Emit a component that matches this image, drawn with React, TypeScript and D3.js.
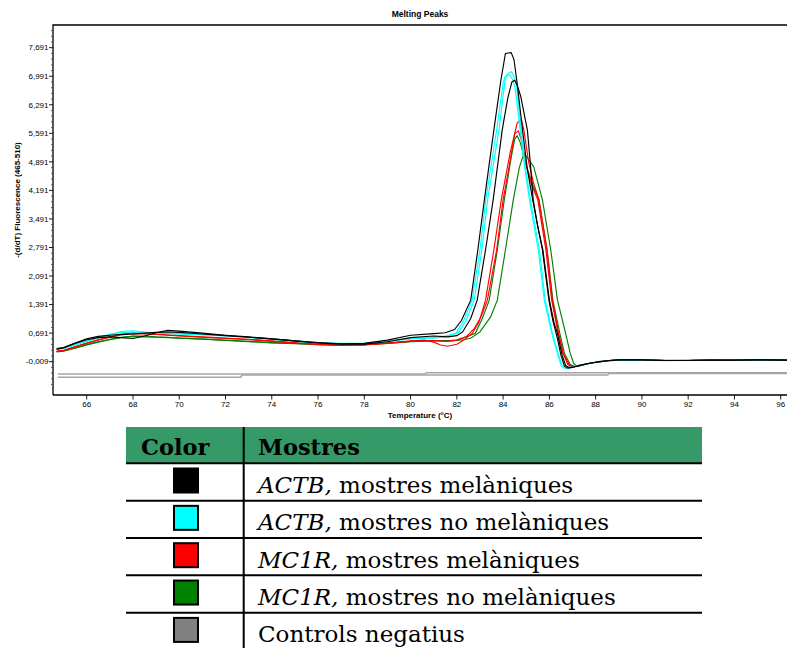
import React from 'react';
import * as d3 from 'd3';

type Pt = [number, number];

const blackA: Pt[] = [[64.7,0.30],[65.0,0.33],[65.5,0.44],[66.0,0.53],[66.5,0.58],[67.0,0.60],[67.5,0.58],[68.0,0.56],[68.5,0.62],[69.0,0.70],[69.5,0.76],[70.0,0.74],[71.0,0.69],[72.0,0.64],[73.0,0.60],[74.0,0.55],[75.0,0.50],[76.0,0.46],[77.0,0.43],[78.0,0.44],[79.0,0.52],[80.0,0.64],[81.0,0.68],[81.5,0.70],[81.9,0.78],[82.2,1.0],[82.6,1.5],[82.9,2.7],[83.2,4.0],[83.6,5.67],[83.9,6.88],[84.1,7.55],[84.35,7.57],[84.47,7.40],[84.6,6.85],[84.85,5.62],[85.05,4.7],[85.28,3.96],[85.5,3.3],[85.7,2.73],[85.98,1.5],[86.15,1.0],[86.33,0.6],[86.5,0.15],[86.65,-0.12],[86.8,-0.17],[87.0,-0.15],[87.35,-0.09],[87.8,-0.04],[88.2,0.0],[88.6,0.02],[89.0,0.035],[90.0,0.035],[91.0,0.02],[92.0,0.02],[93.0,0.03],[94.0,0.03],[95.0,0.035],[96.4,0.03]];
const blackB: Pt[] = [[64.7,0.31],[65.0,0.34],[65.5,0.45],[66.0,0.55],[66.5,0.61],[67.0,0.64],[67.5,0.66],[68.0,0.67],[68.5,0.69],[69.0,0.71],[69.5,0.72],[70.0,0.71],[71.0,0.67],[72.0,0.63],[73.0,0.59],[74.0,0.55],[75.0,0.50],[76.0,0.45],[77.0,0.42],[78.0,0.42],[79.0,0.48],[80.0,0.58],[81.0,0.62],[81.6,0.60],[82.0,0.63],[82.25,0.72],[82.6,1.05],[82.88,1.5],[83.24,2.73],[83.57,3.96],[83.96,5.67],[84.2,6.45],[84.38,6.85],[84.5,6.89],[84.62,6.75],[84.76,6.5],[85.05,5.67],[85.2,4.7],[85.3,3.96],[85.5,3.3],[85.72,2.73],[86.0,1.5],[86.2,0.95],[86.35,0.68],[86.55,0.15],[86.7,-0.1],[86.85,-0.15],[87.05,-0.14],[87.4,-0.09],[87.8,-0.04],[88.2,-0.01],[88.6,0.02],[89.0,0.035],[90.0,0.035],[91.0,0.02],[92.0,0.025],[93.0,0.03],[94.0,0.03],[95.0,0.035],[96.4,0.03]];
const cyanA: Pt[] = [[64.7,0.29],[65.0,0.31],[65.5,0.40],[66.0,0.49],[66.5,0.57],[67.0,0.65],[67.5,0.73],[68.0,0.75],[68.5,0.72],[69.0,0.70],[69.5,0.69],[70.0,0.68],[71.0,0.66],[72.0,0.63],[73.0,0.59],[74.0,0.55],[75.0,0.50],[76.0,0.46],[77.0,0.44],[78.0,0.45],[79.0,0.50],[80.0,0.56],[81.0,0.58],[81.5,0.62],[82.05,0.69],[82.4,1.0],[82.75,1.5],[83.08,2.73],[83.33,3.96],[83.82,5.67],[84.08,6.88],[84.18,7.05],[84.37,7.10],[84.5,6.95],[84.58,6.8],[84.78,5.67],[84.95,4.8],[85.18,3.96],[85.57,2.73],[85.82,1.5],[86.13,0.69],[86.35,0.25],[86.55,-0.12],[86.7,-0.17],[86.95,-0.15],[87.35,-0.09],[87.8,-0.04],[88.2,-0.01],[88.6,0.02],[89.0,0.03],[90.0,0.03],[91.0,0.015],[92.0,0.02],[93.0,0.03],[94.0,0.035],[95.0,0.035],[96.4,0.03]];
const cyanB: Pt[] = [[64.7,0.30],[65.0,0.32],[65.5,0.42],[66.0,0.50],[66.5,0.58],[67.0,0.66],[67.5,0.71],[68.0,0.72],[68.5,0.70],[69.0,0.69],[69.5,0.68],[70.0,0.67],[71.0,0.65],[72.0,0.62],[73.0,0.58],[74.0,0.54],[75.0,0.49],[76.0,0.45],[77.0,0.43],[78.0,0.44],[79.0,0.49],[80.0,0.55],[81.0,0.57],[81.5,0.60],[81.96,0.69],[82.3,1.0],[82.66,1.5],[83.0,2.73],[83.25,3.96],[83.72,5.67],[84.0,6.82],[84.08,6.98],[84.27,7.03],[84.42,6.9],[84.52,6.7],[84.74,5.67],[84.92,4.8],[85.14,3.96],[85.52,2.73],[85.78,1.5],[86.1,0.69],[86.32,0.25],[86.52,-0.12],[86.67,-0.17],[86.92,-0.15],[87.33,-0.09],[87.8,-0.04],[88.2,-0.01],[88.6,0.02],[89.0,0.035],[90.0,0.03],[91.0,0.02],[92.0,0.02],[93.0,0.025],[94.0,0.03],[95.0,0.03],[96.4,0.03]];
const redA: Pt[] = [[64.7,0.24],[65.0,0.26],[65.5,0.35],[66.0,0.44],[66.5,0.52],[67.0,0.59],[67.5,0.66],[68.0,0.70],[68.5,0.69],[69.0,0.67],[69.5,0.65],[70.0,0.63],[71.0,0.60],[72.0,0.57],[73.0,0.54],[74.0,0.50],[75.0,0.46],[76.0,0.42],[77.0,0.40],[78.0,0.41],[79.0,0.45],[80.0,0.50],[80.6,0.52],[81.0,0.47],[81.3,0.40],[81.6,0.37],[82.0,0.42],[82.3,0.52],[82.67,0.69],[82.95,0.95],[83.24,1.5],[83.6,2.73],[83.92,3.96],[84.3,5.1],[84.61,5.85],[84.79,5.93],[84.9,5.66],[85.1,4.9],[85.3,4.4],[85.55,3.96],[85.9,2.73],[86.13,1.5],[86.4,0.69],[86.6,0.2],[86.85,-0.08],[87.05,-0.13],[87.3,-0.1],[87.8,-0.04],[88.2,-0.01],[88.6,0.02],[89.0,0.035],[90.0,0.035],[91.0,0.025],[92.0,0.02],[93.0,0.03],[94.0,0.03],[95.0,0.035],[96.4,0.03]];
const redB: Pt[] = [[64.7,0.25],[65.0,0.27],[65.5,0.36],[66.0,0.45],[66.5,0.53],[67.0,0.60],[67.5,0.65],[68.0,0.68],[68.5,0.67],[69.0,0.66],[69.5,0.64],[70.0,0.62],[71.0,0.59],[72.0,0.56],[73.0,0.53],[74.0,0.49],[75.0,0.45],[76.0,0.41],[77.0,0.39],[78.0,0.40],[79.0,0.44],[80.0,0.49],[81.0,0.51],[81.6,0.49],[82.0,0.52],[82.4,0.6],[82.75,0.8],[83.05,1.1],[83.32,1.5],[83.72,2.73],[84.0,3.96],[84.3,4.9],[84.5,5.58],[84.66,5.65],[84.78,5.45],[85.0,4.8],[85.25,4.3],[85.5,3.96],[85.85,2.73],[86.1,1.5],[86.38,0.69],[86.58,0.2],[86.8,-0.08],[87.0,-0.14],[87.3,-0.1],[87.8,-0.04],[88.2,-0.01],[88.6,0.02],[89.0,0.03],[90.0,0.03],[91.0,0.02],[92.0,0.02],[93.0,0.03],[94.0,0.03],[95.0,0.03],[96.4,0.03]];
const greenA: Pt[] = [[64.7,0.23],[65.0,0.25],[65.5,0.32],[66.0,0.40],[66.5,0.47],[67.0,0.53],[67.5,0.58],[68.0,0.62],[68.5,0.62],[69.0,0.60],[69.5,0.59],[70.0,0.57],[71.0,0.55],[72.0,0.52],[73.0,0.49],[74.0,0.46],[75.0,0.44],[76.0,0.42],[77.0,0.40],[78.0,0.41],[79.0,0.45],[80.0,0.49],[81.0,0.51],[81.6,0.50],[82.0,0.52],[82.4,0.6],[82.8,0.69],[83.1,1.05],[83.4,1.5],[83.75,2.73],[84.05,3.96],[84.35,5.0],[84.5,5.45],[84.61,5.53],[84.75,5.35],[85.0,4.8],[85.3,4.3],[85.55,3.96],[85.9,2.73],[86.15,1.5],[86.45,0.69],[86.65,0.2],[86.9,-0.08],[87.1,-0.13],[87.35,-0.1],[87.8,-0.04],[88.2,-0.01],[88.6,0.015],[89.0,0.03],[90.0,0.03],[91.0,0.02],[92.0,0.02],[93.0,0.025],[94.0,0.03],[95.0,0.03],[96.4,0.03]];
const greenB: Pt[] = [[64.7,0.24],[65.0,0.26],[65.5,0.33],[66.0,0.41],[66.5,0.48],[67.0,0.54],[67.5,0.59],[68.0,0.61],[68.5,0.60],[69.0,0.59],[69.5,0.58],[70.0,0.57],[71.0,0.54],[72.0,0.51],[73.0,0.48],[74.0,0.45],[75.0,0.43],[76.0,0.41],[77.0,0.40],[78.0,0.41],[79.0,0.44],[80.0,0.48],[81.0,0.50],[81.6,0.50],[82.0,0.51],[82.3,0.53],[82.6,0.565],[83.0,0.72],[83.46,1.09],[83.75,1.5],[84.1,2.73],[84.44,3.96],[84.7,4.75],[84.9,5.10],[85.1,4.95],[85.33,4.76],[85.7,3.96],[86.06,2.73],[86.35,1.5],[86.7,0.69],[86.9,0.2],[87.05,-0.05],[87.2,-0.13],[87.4,-0.1],[87.8,-0.04],[88.2,-0.01],[88.6,0.015],[89.0,0.03],[90.0,0.03],[91.0,0.02],[92.0,0.02],[93.0,0.025],[94.0,0.03],[95.0,0.03],[96.4,0.03]];
const grayA: Pt[] = [[64.75,-0.31],[80.62,-0.31],[80.68,-0.28],[96.4,-0.28]];
const grayB: Pt[] = [[64.75,-0.39],[72.65,-0.39],[72.72,-0.335],[88.52,-0.335],[88.58,-0.30],[96.4,-0.30]];

const seriesList: { name: string; color: string; data: Pt[] }[] = [
  { name: 'grayA', color: '#a6a6a6', data: grayA },
  { name: 'grayB', color: '#a6a6a6', data: grayB },
  { name: 'greenA', color: '#008000', data: greenA },
  { name: 'greenB', color: '#008000', data: greenB },
  { name: 'redA', color: '#ff0000', data: redA },
  { name: 'redB', color: '#ff0000', data: redB },
  { name: 'cyanA', color: '#00ffff', data: cyanA },
  { name: 'cyanB', color: '#00ffff', data: cyanB },
  { name: 'blackB', color: '#000000', data: blackB },
  { name: 'blackA', color: '#000000', data: blackA },
];

const yTickValues = [-0.009, 0.691, 1.391, 2.091, 2.791, 3.491, 4.191, 4.891, 5.591, 6.291, 6.991, 7.691];
const xTickValues = [66, 68, 70, 72, 74, 76, 78, 80, 82, 84, 86, 88, 90, 92, 94, 96];

const legendGenes = ['ACTB', 'ACTB', 'MC1R', 'MC1R', ''];
const legendTexts = ['mostres melàniques', 'mostres no melàniques', 'mostres melàniques', 'mostres no melàniques', 'Controls negatius'];
const legendColors = ['#000000', '#00ffff', '#ff0000', '#008000', '#808080'];

const W = 787, H = 648;
const PL = 53, PT = 25, PR = 787, PB = 395;

export default function App() {
  const x = d3.scaleLinear().domain([64.543, 96.272]).range([PL, PR]);
  const y = d3.scaleLinear().domain([-0.826, 8.247]).range([PB, PT]);
  const line = d3.line<Pt>().x(d => x(d[0])).y(d => y(d[1])).curve(d3.curveLinear);
  const fmt = (v: number) => d3.format('.3f')(v).replace('.', ',').replace('−', '-');
  const minorTicks = d3.range(-5, 60).map(k => -0.009 + 0.14 * k).filter((v, i) => (i % 5) !== 0 && y(v) >= PT && y(v) <= PB);

  const rowTop = 463.3;
  const rowH = 37.35;
  const rows = d3.range(legendTexts.length);
  const tableL = 126, tableR = 702, divX = 243.7;
  const sansFont = 'Liberation Sans, Arial, sans-serif';
  const serifFont = 'DejaVu Serif, serif';

  return (
    <svg width={W} height={H} style={{ position: 'absolute', left: 0, top: 0, background: '#fff' }}>
      <defs>
        <clipPath id="plotclip"><rect x={PL} y={PT} width={PR - PL + 5} height={PB - PT} /></clipPath>
      </defs>
      <rect x={0} y={0} width={W} height={H} fill="#fff" />
      <text x={420} y={17} textAnchor="middle" fontFamily={sansFont} fontWeight="bold" fontSize={8.5}>Melting Peaks</text>
      <g clipPath="url(#plotclip)">
        {seriesList.map(s => (
          <path key={s.name} d={line(s.data) || ''} fill="none" stroke={s.color}
            strokeWidth={s.name.startsWith('gray') ? 1.6 : 1.15} strokeLinejoin="miter" />
        ))}
      </g>
      <path d={`M${PL},${PB}V${PT}H${W + 5}`} fill="none" stroke="#000" strokeWidth={1.3} />
      <line x1={PL} x2={W + 5} y1={PB} y2={PB} stroke="#000" strokeWidth={1.3} />
      {minorTicks.map((v, i) => (
        <line key={'m' + i} x1={PL - 2} x2={PL} y1={y(v)} y2={y(v)} stroke="#444" strokeWidth={0.8} />
      ))}
      {yTickValues.map(v => (
        <g key={'y' + v}>
          <line x1={PL - 4} x2={PL} y1={y(v)} y2={y(v)} stroke="#000" strokeWidth={0.9} />
          <text x={PL - 4.5} y={y(v) + 2.8} textAnchor="end" fontFamily={sansFont} fontSize={8}>{fmt(v)}</text>
        </g>
      ))}
      {xTickValues.map(v => (
        <g key={'x' + v}>
          <line x1={x(v)} x2={x(v)} y1={PB} y2={PB + 4.5} stroke="#000" strokeWidth={0.9} />
          <text x={x(v)} y={PB + 11.5} textAnchor="middle" fontFamily={sansFont} fontSize={8}>{v}</text>
        </g>
      ))}
      <text x={420} y={418} textAnchor="middle" fontFamily={sansFont} fontWeight="bold" fontSize={8}>Temperature (°C)</text>
      <text transform="translate(20,200) rotate(-90)" textAnchor="middle" fontFamily={sansFont} fontWeight="bold" fontSize={8}>-(d/dT) Fluorescence (465-510)</text>

      {/* legend table */}
      <rect x={tableL} y={427} width={tableR - tableL} height={rowTop - 427} fill="#369a68" />
      <text x={141} y={455} fontFamily={serifFont} fontWeight="bold" fontSize={22.5}>Color</text>
      <text x={258} y={455} fontFamily={serifFont} fontWeight="bold" fontSize={22.5}>Mostres</text>
      {rows.map(i => (
        <g key={'r' + i}>
          <line x1={tableL} x2={tableR} y1={rowTop + i * rowH} y2={rowTop + i * rowH} stroke="#000" strokeWidth={2} />
          <rect x={174} y={rowTop + i * rowH + 5.2} width={24} height={24} fill={legendColors[i]} stroke="#000" strokeWidth={2} />
          <text x={258} y={rowTop + i * rowH + 29.5} fontFamily={serifFont} fontSize={23}>
            {legendGenes[i] ? <tspan fontStyle="italic">{legendGenes[i]},</tspan> : null}
            {legendGenes[i] ? ' ' + legendTexts[i] : legendTexts[i]}
          </text>
        </g>
      ))}
      <line x1={divX} x2={divX} y1={427} y2={H} stroke="#000" strokeWidth={2} />
    </svg>
  );
}
